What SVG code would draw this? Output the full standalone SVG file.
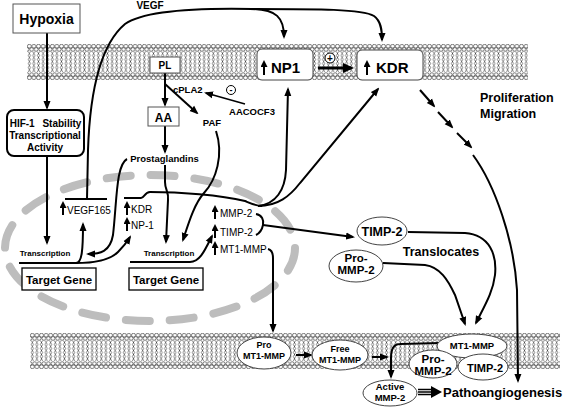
<svg xmlns="http://www.w3.org/2000/svg" width="566" height="411" viewBox="0 0 566 411">
<style>
text{font-family:"Liberation Sans",Arial,sans-serif;fill:#000}
.b{font-weight:bold}
.c{text-anchor:middle}
.ln{fill:none;stroke:#000;stroke-width:2}
.th{fill:none;stroke:#000;stroke-width:1.5}
.ar{marker-end:url(#ah)}
.up{fill:none;stroke:#000;stroke-width:2;marker-end:url(#ahs)}
.box{fill:#fff;stroke:#555;stroke-width:1}
.ell{fill:#fff;stroke:#444;stroke-width:1}
</style>
<defs>
<marker id="ah" markerWidth="9" markerHeight="8" refX="7" refY="4" orient="auto" markerUnits="userSpaceOnUse"><path d="M0,0.5 L9,4 L0,7.5 z" fill="#000"/></marker>
<marker id="ahb" markerWidth="11" markerHeight="10" refX="8" refY="5" orient="auto" markerUnits="userSpaceOnUse"><path d="M0,0 L11,5 L0,10 z" fill="#000"/></marker>
<marker id="ahs" markerWidth="7" markerHeight="7" refX="5" refY="3.5" orient="auto" markerUnits="userSpaceOnUse"><path d="M0,0 L7,3.5 L0,7 z" fill="#000"/></marker>
<pattern id="mem" patternUnits="userSpaceOnUse" width="4.6" height="36">
<path d="M1.2,7.5 L3.4,11.5 L1.2,15.5 L3.4,19.5 L1.2,23.5 L3.4,28 M3.4,7.5 L1.2,11.5 L3.4,15.5 L1.2,19.5 L3.4,23.5 L1.2,28" fill="none" stroke="#000" stroke-width="0.45"/>
<g fill="#fff" stroke="#000" stroke-width="0.5">
<circle cx="0" cy="5.4" r="1.9"/><circle cx="4.6" cy="5.4" r="1.9"/><circle cx="2.3" cy="2.2" r="1.9"/>
<circle cx="0" cy="30.6" r="1.9"/><circle cx="4.6" cy="30.6" r="1.9"/><circle cx="2.3" cy="33.8" r="1.9"/>
</g>
</pattern>
</defs>
<rect width="566" height="411" fill="#fff"/>

<g id="membranes">
<rect x="0" y="0" width="501" height="36" fill="url(#mem)" transform="translate(27,44)"/>
<rect x="0" y="0" width="530" height="36" fill="url(#mem)" transform="translate(30,333)"/>
</g>

<g id="nucleus">
<ellipse cx="150" cy="248" rx="145" ry="73" fill="none" stroke="#bdbdbd" stroke-width="8" stroke-linecap="round" stroke-dasharray="24 20"/>
</g>

<g id="connectors">
<path class="ln ar" d="M47,33 L47,108"/>
<path class="ln ar" d="M47,157 L47,243"/>
<path class="ln" d="M87,199 L88,150 C90,90 100,45 125,24 C145,10 200,8 252,9"/>
<path class="ln ar" d="M250,9 C277,9 284,18 284,37"/>
<path class="ln ar" d="M250,9 C320,9 362,9 374,16 C381,21 382,30 382,40"/>
<path class="ln ar" d="M165,73 L165,105"/>
<path class="ln ar" d="M165,84 L197,113"/>
<path class="th ar" d="M245,104 L206,93"/>
<path class="ln ar" d="M165,126 L165,152"/>
<path class="ln ar" d="M127,159 C116,165 117,200 113,235 C110,252 100,254 88,254"/>
<path class="ln ar" d="M165,165 L165,182 C165,190 169,192 168,200 L166,242"/>
<path class="ln ar" d="M216,131 C224,155 216,180 204,193 C194,204 188,225 183,240"/>
<path class="ln" d="M124,198 L141,198 C144,198 145,192 150,192 C180,192 220,195 245,201 C252,204 256,206 262,206"/>
<path class="ln ar" d="M258,206 C276,204 285,190 286,170 L288,89"/>
<path class="ln ar" d="M258,206 C278,206 290,196 300,183 L378,89"/>
<path class="ln" d="M65,199 L107,199"/>
<path class="ln ar" d="M19,263 L76,263 C82,263 83,250 83,224"/>
<path class="ln ar" d="M76,263 C95,263 110,260 118,252 C124,246 127,242 130,237"/>
<path class="ln ar" d="M130,262 L190,262 C200,262 205,250 212,236"/>
<path class="ln" d="M256,214 C262,215 264,220 263,225 C262,230 260,233 256,235"/>
<path class="ln ar" d="M263,225 L353,237"/>
<path class="ln ar" d="M268,249 C272,250 273,253 273,258 L273,331"/>
<path class="ln ar" d="M408,232 L465,233 C490,235 497,255 495,275 C493,292 485,305 476,323"/>
<path class="ln ar" d="M383,263 L425,265 C440,267 448,280 455,295 L465,324"/>
<path class="ln ar" d="M420,90 L434,106"/>
<path class="ln ar" d="M438,112 L452,127"/>
<path class="ln ar" d="M457,133 L471,147"/>
<path class="ln ar" d="M473,155 C495,185 514,240 517,290 L518,381"/>
<path fill="none" stroke="#000" stroke-width="3" marker-end="url(#ahb)" d="M318,68 L351,68"/>
<path class="ln ar" d="M296,355 L311,355"/>
<path class="ln ar" d="M372,357 L387,357"/>
<path class="ln ar" d="M440,343 L400,344 C393,344 391,350 391,358 L391,377"/>
<path fill="none" stroke="#000" stroke-width="1.3" d="M418,389.5 L433,389.5 M418,392 L433,392 M418,394.5 L433,394.5"/>
<path d="M431,386 L442,392 L431,398 z" fill="#000"/>
</g>

<g id="hypoxia">
<rect class="box" x="13" y="4" width="67" height="29"/>
<text class="b c" x="46.5" y="24" font-size="14">Hypoxia</text>
</g>
<g id="vegf-label">
<text class="b c" x="150" y="9" font-size="10">VEGF</text>
</g>
<g id="hif1">
<rect x="7" y="110" width="77" height="46" rx="7" fill="#fff" stroke="#000" stroke-width="2"/>
<text class="b c" x="45.5" y="127" font-size="10" word-spacing="5">HIF-1 Stability</text>
<text class="b c" x="45" y="139" font-size="10">Transcriptional</text>
<text class="b c" x="45" y="151" font-size="10">Activity</text>
</g>
<g id="pl">
<rect class="box" x="150" y="57" width="30" height="16"/>
<text class="b c" x="165" y="69" font-size="10">PL</text>
</g>
<g id="aa">
<rect class="box" x="148" y="107" width="31" height="19" stroke="#777"/>
<text class="b c" x="163.5" y="121.5" font-size="12">AA</text>
</g>
<g id="cpla2">
<text class="b" x="173" y="93" font-size="9.5">cPLA2</text>
</g>
<g id="inhibit">
<circle cx="231" cy="90" r="4.5" fill="#fff" stroke="#000" stroke-width="1"/>
<text class="b c" x="231" y="93" font-size="9">-</text>
</g>
<g id="aacocf3">
<text class="b c" x="252" y="115" font-size="9.5">AACOCF3</text>
</g>
<g id="paf">
<text class="b c" x="212" y="126" font-size="9.5">PAF</text>
</g>
<g id="prostaglandins">
<text class="b c" x="164.5" y="162" font-size="9.5">Prostaglandins</text>
</g>
<g id="np1">
<rect x="257" y="49" width="56" height="31" rx="5" fill="#fff" stroke="#444" stroke-width="1"/>
<path class="up" d="M264,75 L264,62"/>
<text class="b" x="271" y="73" font-size="15">NP1</text>
</g>
<g id="plus">
<circle cx="330" cy="58" r="5" fill="#fff" stroke="#000" stroke-width="1"/>
<text class="b c" x="330" y="61.5" font-size="10">+</text>
</g>
<g id="kdr">
<rect x="357" y="50" width="66" height="30" rx="5" fill="#fff" stroke="#444" stroke-width="1"/>
<path class="up" d="M367,75 L367,62"/>
<text class="b" x="376" y="73" font-size="15">KDR</text>
</g>
<g id="prolif">
<text class="b" x="480" y="102" font-size="12.5">Proliferation</text>
<text class="b" x="480" y="118" font-size="12.5">Migration</text>
</g>
<g id="vegf165">
<path class="up" d="M63,215 L63,203"/>
<text x="67" y="214" font-size="10">VEGF165</text>
</g>
<g id="kdr-np1">
<path class="up" d="M127,215 L127,203"/>
<text x="131" y="213" font-size="10">KDR</text>
<path class="up" d="M127,231 L127,219"/>
<text x="131" y="229" font-size="10">NP-1</text>
</g>
<g id="mmps">
<path class="up" d="M215,219 L215,207"/>
<text x="220" y="217" font-size="10">MMP-2</text>
<path class="up" d="M215,238 L215,226"/>
<text x="220" y="236" font-size="10">TIMP-2</text>
<path class="up" d="M215,255 L215,243"/>
<text x="220" y="253" font-size="10">MT1-MMP</text>
</g>
<g id="transcription-left">
<text class="b c" x="45" y="256" font-size="8">Transcription</text>
</g>
<g id="transcription-right">
<text class="b c" x="169" y="256" font-size="8">Transcription</text>
</g>
<g id="target-left">
<rect x="22" y="268" width="74" height="22" fill="#fff" stroke="#000" stroke-width="1.3"/>
<text class="b c" x="59" y="284" font-size="11.5">Target Gene</text>
</g>
<g id="target-right">
<rect x="129" y="268" width="74" height="22" fill="#fff" stroke="#000" stroke-width="1.3"/>
<text class="b c" x="166" y="284" font-size="11.5">Target Gene</text>
</g>
<g id="timp2">
<ellipse class="ell" cx="382" cy="231" rx="25" ry="14"/>
<text class="b c" x="382" y="236" font-size="12.5">TIMP-2</text>
</g>
<g id="translocates">
<text class="b c" x="441" y="256" font-size="12.5">Translocates</text>
</g>
<g id="prommp2">
<ellipse class="ell" cx="356" cy="266" rx="27" ry="16"/>
<text class="b c" x="356" y="262" font-size="11.5">Pro-</text>
<text class="b c" x="356" y="274" font-size="11.5">MMP-2</text>
</g>
<g id="pro-mt1">
<ellipse class="ell" cx="264" cy="353" rx="27" ry="16"/>
<text class="b c" x="264" y="348" font-size="9">Pro</text>
<text class="b c" x="264" y="359" font-size="9">MT1-MMP</text>
</g>
<g id="free-mt1">
<ellipse class="ell" cx="340" cy="355" rx="28" ry="15"/>
<text class="b c" x="340" y="352" font-size="9">Free</text>
<text class="b c" x="340" y="363" font-size="9">MT1-MMP</text>
</g>
<g id="complex">
<ellipse class="ell" cx="472" cy="346" rx="35" ry="12"/>
<text class="b c" x="472" y="349" font-size="9.5">MT1-MMP</text>
<ellipse class="ell" cx="483" cy="367" rx="25" ry="13"/>
<text class="b c" x="485" y="372" font-size="11">TIMP-2</text>
<ellipse class="ell" cx="433" cy="364" rx="24" ry="14"/>
<text class="b c" x="433" y="363" font-size="11.5">Pro-</text>
<text class="b c" x="433" y="375" font-size="11.5">MMP-2</text>
</g>
<g id="active-mmp2">
<ellipse class="ell" cx="390" cy="393" rx="27" ry="13"/>
<text class="b c" x="390" y="390" font-size="9.5">Active</text>
<text class="b c" x="390" y="401" font-size="9.5">MMP-2</text>
</g>
<g id="patho">
<text class="b" x="443" y="397" font-size="13">Pathoangiogenesis</text>
</g>
</svg>
